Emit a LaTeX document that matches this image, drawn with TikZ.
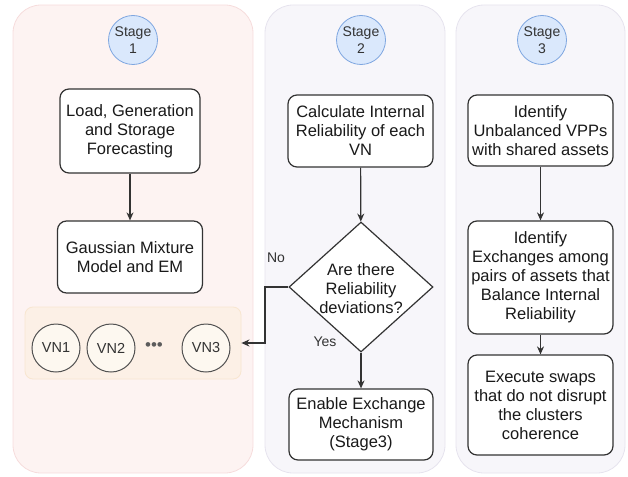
\documentclass[tikz,border=0pt]{standalone}
\usepackage{fontspec}
\setmainfont{Liberation Sans}
\usetikzlibrary{shapes.geometric,arrows.meta}
\definecolor{pOneFill}{HTML}{FDF3F2}
\definecolor{pOneLine}{HTML}{F6DCDC}
\definecolor{pTwoFill}{HTML}{F7F6FA}
\definecolor{pTwoLine}{HTML}{E6E3EE}
\definecolor{stFill}{HTML}{DAE8FC}
\definecolor{stLine}{HTML}{7EA6E0}
\definecolor{vnbFill}{HTML}{FCF0E6}
\definecolor{vnbLine}{HTML}{F8E6D0}
\definecolor{vnFill}{HTML}{FDF8F0}
\definecolor{ink}{HTML}{333333}
\tikzset{
  panel/.style={rounded corners=28pt, line width=0.8pt, inner sep=0pt},
  stage/.style={circle, draw=stLine, fill=stFill, line width=0.8pt, minimum size=49pt, inner sep=0pt, align=center, font=\fontsize{14}{16.5}\selectfont, text=ink},
  fbox/.style={draw=ink, fill=white, rounded corners=9pt, line width=1.2pt, minimum width=145pt, inner sep=0pt, align=center, font=\fontsize{16.5}{19}\selectfont, text=black!90},
  vn/.style={circle, draw=ink!85, fill=vnFill, line width=1pt, minimum size=48pt, inner sep=0pt, font=\fontsize{14.5}{17}\selectfont, text=ink},
  arr/.style={draw=ink, line width=1.2pt, -{Stealth[length=8pt,width=7pt]}},
  lbl/.style={font=\fontsize{14}{17}\selectfont, text=ink},
}
\begin{document}
\begin{tikzpicture}[x=1pt,y=-1pt]
\useasboundingbox (0,0) rectangle (628,476);
% panels
\node[panel, draw=pOneLine, fill=pOneFill, minimum width=240pt, minimum height=468pt] (p1) at (133,239) {};
\node[panel, draw=pTwoLine, fill=pTwoFill, minimum width=180pt, minimum height=468pt] (p2) at (355,239) {};
\node[panel, draw=pTwoLine, fill=pTwoFill, minimum width=169pt, minimum height=468pt] (p3) at (540.5,239) {};
% stages
\node[stage] (s1) at (133,40) {Stage\\1};
\node[stage] (s2) at (361,40) {Stage\\2};
\node[stage] (s3) at (542,40) {Stage\\3};
% stage 1
\node[fbox, minimum width=140pt, minimum height=84pt] (load) at (130,131) {Load, Generation\\and Storage\\Forecasting};
\node[fbox, minimum width=145pt, minimum height=72pt] (gmm) at (130,257) {Gaussian Mixture\\Model and EM};
\node[draw=vnbLine, fill=vnbFill, rounded corners=8pt, line width=0.8pt, minimum width=216pt, minimum height=72pt, inner sep=0pt] (vnbox) at (133,343) {};
\node[vn] (vn1) at (56,348) {VN1};
\node[vn] (vn2) at (111,348) {VN2};
\node[font=\fontsize{17}{18}\selectfont, text=ink!80] (dots) at (154,347) {•••};
\node[vn] (vn3) at (206,348) {VN3};
\draw[arr] (load) -- (gmm);
% stage 2
\node[fbox, minimum width=145pt, minimum height=72pt] (calc) at (360.5,131) {Calculate Internal\\Reliability of each\\VN};
\node[diamond, draw=ink, fill=white, line width=1.2pt, minimum width=144pt, minimum height=130pt, inner sep=0pt] (dec) at (361,287) {};
\node[font=\fontsize{16.5}{19}\selectfont, align=center, text=black!90] (dect) at (361,289) {Are there\\Reliability\\deviations?};
\node[fbox, minimum width=144pt, minimum height=71pt] (enab) at (361,424.5) {Enable Exchange\\Mechanism\\(Stage3)};
\draw[arr] (calc) -- (dec);
\draw[arr] (dec) -- (enab);
\coordinate (nobend) at (265,287);
\draw[arr] (dec.west) -- (nobend) |- (vnbox.east);
\node[lbl] (nolbl) at (276,258) {No};
\node[lbl] (yeslbl) at (325,342) {Yes};
% stage 3
\node[fbox, minimum width=145pt, minimum height=71pt] (ident) at (540.5,130.5) {Identify\\Unbalanced VPPs\\with shared assets};
\node[fbox, minimum width=145pt, minimum height=113pt] (exch) at (540.5,277.5) {Identify\\Exchanges among\\pairs of assets that\\Balance Internal\\Reliability};
\node[fbox, minimum width=145pt, minimum height=100pt] (exec) at (540.5,405) {Execute swaps\\that do not disrupt\\the clusters\\coherence};
\draw[arr] (ident) -- (exch);
\draw[arr] (exch) -- (exec);
\end{tikzpicture}
\end{document}
